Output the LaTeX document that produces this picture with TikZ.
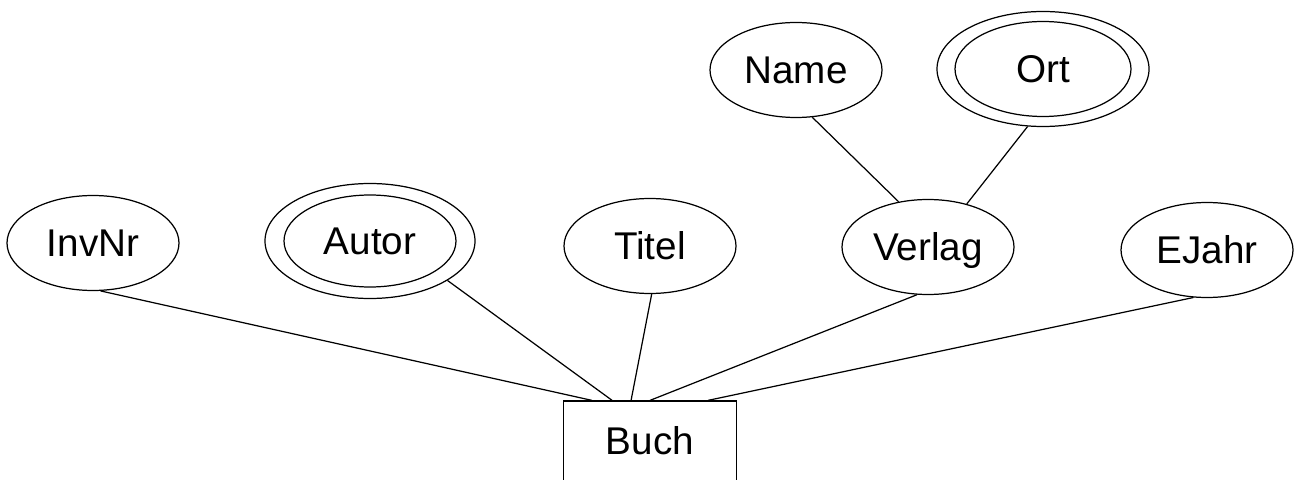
\documentclass[tikz,border=0pt]{standalone}
\usepackage{fontspec}
\setmainfont{Liberation Sans}
\usetikzlibrary{shapes.geometric, positioning}
\tikzstyle{entity} = [rectangle, minimum width=3.46cm, minimum height=1.6cm, inner sep=0pt, text height=15.8pt, text depth=0pt, text centered, draw=black, line width=0.7pt, font=\fontsize{22}{26}\selectfont]
\tikzstyle{attribute} = [ellipse, minimum width=3.44cm, minimum height=1.9cm, inner sep=0pt, text height=15.8pt, text depth=0pt, text centered, draw=black, line width=0.7pt, font=\fontsize{22}{26}\selectfont]
\tikzstyle{multiring} = [ellipse, minimum width=4.2cm, minimum height=2.3cm, inner sep=0pt, draw=black, line width=0.7pt]
\tikzstyle{link} = [line width=0.7pt]

\begin{document}
\begin{tikzpicture}

\useasboundingbox (0,0) rectangle (25.9,9.58);

% Entity
\node (buch) [entity] at (13.00,0.76) {Buch};

% Attributes of Buch
\node (invnr) [attribute] at (1.86,4.72) {InvNr};
\node (autor) [attribute, minimum height=1.84cm] at (7.40,4.76) {Autor};
\node (autorring) [multiring] at (autor) {};
\node (titel) [attribute] at (13.00,4.66) {Titel};
\node (verlag) [attribute] at (18.56,4.64) {Verlag};
\node (ejahr) [attribute] at (24.14,4.58) {EJahr};

% Attributes of Verlag
\node (name) [attribute] at (15.92,8.18) {Name};
\node (ort) [attribute, minimum width=3.52cm] at (20.86,8.20) {Ort};
\node (ortring) [multiring, minimum width=4.24cm] at (ort) {};

% Lines to Buch
\draw [link] (invnr.-81) -- (buch.145);
\draw [link] (autorring.-27) -- (buch.133.5);
\draw [link] (titel.-88) -- (buch.115.4);
\draw [link] (verlag.-103) -- (buch.north);
\draw [link] (ejahr.-106) -- (buch.35);

% Lines to Verlag
\draw [link] (name.-71) -- (verlag.123);
\draw [link] (ortring.-105) -- (verlag.48);

\end{tikzpicture}
\end{document}
